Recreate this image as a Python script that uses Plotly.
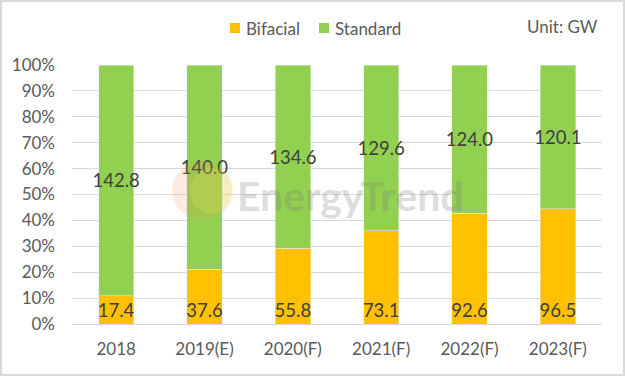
import plotly.graph_objects as go

categories = ["2018", "2019(E)", "2020(F)", "2021(F)", "2022(F)", "2023(F)"]
bifacial = [17.4, 37.6, 55.8, 73.1, 92.6, 96.5]
standard = [142.8, 140.0, 134.6, 129.6, 124.0, 120.1]
y_ticks = [0, 10, 20, 30, 40, 50, 60, 70, 80, 90, 100]
y_labels = [f"{v}%" for v in y_ticks]
series_names = ["Bifacial", "Standard"]
series_colors = ["#FFC000", "#92D050"]

W, H = 625, 376
L, R, T, B = 72, 23, 65, 52
pw, ph = W - L - R, H - T - B

def px(x):
    return (x - L) / pw

def py(y):
    return (H - B - y) / ph

FONT = "Lato"
LBL = dict(family=FONT, size=18.5, color="#404040")
fig = go.Figure()
fig.add_trace(go.Bar(
    name=series_names[0], x=categories, y=bifacial, marker_color=series_colors[0],
    text=[f"{v:.1f}" for v in bifacial], texttemplate="%{text}",
    textposition="inside", insidetextanchor="start", textangle=0,
    constraintext="none", textfont=LBL, hoverinfo="skip",
))
fig.add_trace(go.Bar(
    name=series_names[1], x=categories, y=standard, marker_color=series_colors[1],
    text=[f"{v:.1f}" for v in standard], texttemplate="%{text}",
    textposition="inside", insidetextanchor="middle", textangle=0,
    constraintext="none", textfont=LBL, hoverinfo="skip",
))

# manual legend (square markers + labels)
legend_sq_x = [230, 319]
legend_txt_x = [244, 333]
shapes = [
    dict(type="rect", xref="paper", yref="paper",
         x0=px(1), x1=px(W - 1), y0=py(1), y1=py(H - 1),
         line=dict(color="#D9D9D9", width=2), fillcolor="rgba(0,0,0,0)", layer="above"),
    dict(type="circle", xref="paper", yref="paper",
         x0=px(172), x1=px(232), y0=py(220), y1=py(161),
         line=dict(width=0), fillcolor="rgba(240,150,80,0.18)", layer="above"),
    dict(type="circle", xref="paper", yref="paper",
         x0=px(190), x1=px(234), y0=py(214), y1=py(168),
         line=dict(width=0), fillcolor="rgba(230,230,90,0.22)", layer="above"),
]
annotations = [
    dict(text="Unit: GW", xref="paper", yref="paper", x=px(600), y=py(26),
         xanchor="right", yanchor="middle", showarrow=False,
         font=dict(size=17, color="#595959")),
    dict(text="<b>EnergyTrend</b>", xref="paper", yref="paper", x=px(350), y=py(195),
         xanchor="center", yanchor="middle", showarrow=False,
         font=dict(size=41, color="rgba(120,120,120,0.26)", family="Lato")),
]
for name, color, sx, tx in zip(series_names, series_colors, legend_sq_x, legend_txt_x):
    shapes.append(dict(type="rect", xref="paper", yref="paper",
                       x0=px(sx), x1=px(sx + 10), y0=py(33), y1=py(23),
                       line=dict(width=0), fillcolor=color))
    annotations.append(dict(text=name, xref="paper", yref="paper", x=px(tx), y=py(28),
                            xanchor="left", yanchor="middle", showarrow=False,
                            font=dict(size=17, color="#595959")))

fig.update_layout(
    barmode="stack", barnorm="percent", bargap=0.6,
    width=W, height=H, margin=dict(l=L, r=R, t=T, b=B, autoexpand=False),
    paper_bgcolor="white", plot_bgcolor="white",
    font=dict(family=FONT, color="#595959", size=17),
    showlegend=False,
    xaxis=dict(showgrid=False, showline=True, linecolor="#D9D9D9", linewidth=1,
               ticks="", tickfont=dict(size=17, color="#595959"), ticklabelstandoff=10),
    yaxis=dict(range=[0, 100], tickmode="array", tickvals=y_ticks, ticktext=y_labels,
               showgrid=True, gridcolor="#D9D9D9", gridwidth=1, zeroline=False, showline=False,
               tickfont=dict(size=17, color="#595959"), ticklabelstandoff=16),
    shapes=shapes,
    annotations=annotations,
)

fig.write_html("out.html", config={"displayModeBar": False},
               post_script="document.body.style.margin='0px';")
